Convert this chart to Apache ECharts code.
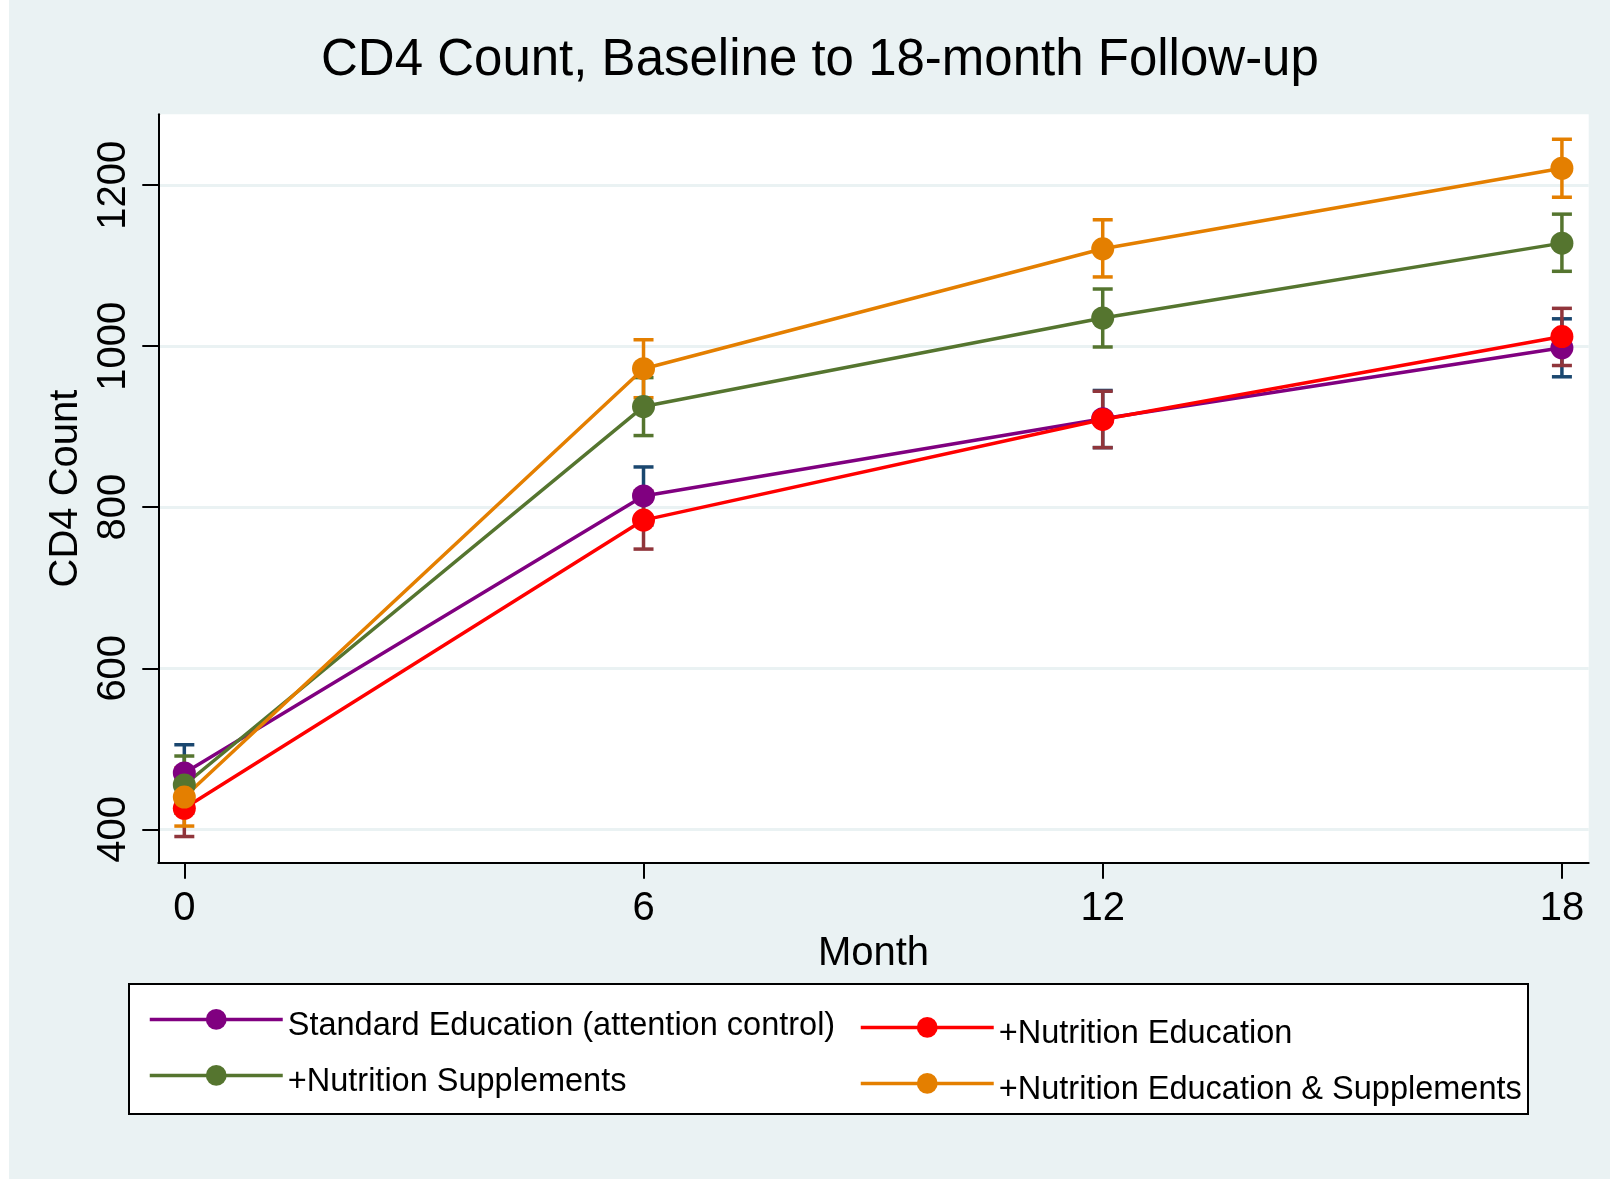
<!DOCTYPE html>
<html>
<head>
<meta charset="utf-8">
<script src="https://cdn.jsdelivr.net/npm/echarts@6/dist/echarts.min.js"></script>
<style>
  html, body { margin: 0; padding: 0; background: #fff; }
  #main { position: absolute; left: 9px; top: 0; width: 1601px; height: 1179px; }
</style>
</head>
<body>
<div id="main"></div>
<script>
// x positions (months) and axis ticks
const months = [0, 6, 12, 18];
const xTicks = [0, 6, 12, 18];
const yTicks = [400, 600, 800, 1000, 1200];

const seriesNames = [
  'Standard Education (attention control)',
  '+Nutrition Education',
  '+Nutrition Supplements',
  '+Nutrition Education & Supplements'
];

// mean CD4 count per group
const standardMean = [470, 814, 910, 998];
const nutEduMean = [426, 784, 909, 1012];
const suppMean = [455, 925, 1035, 1128];
const eduSuppMean = [440, 972, 1121, 1221];

// confidence interval ends
const standardLow = [435, 778, 874, 962];
const standardHigh = [505, 850, 945, 1034];
const nutEduLow = [391, 748, 874, 976];
const nutEduHigh = [461, 820, 944, 1047];
const suppLow = [420, 889, 999, 1093];
const suppHigh = [491, 961, 1071, 1164];
const eduSuppLow = [404, 936, 1086, 1185];
const eduSuppHigh = [476, 1008, 1157, 1257];

const lineColors = ['#800080', '#ff0000', '#55752f', '#e47f00'];
const barColors = ['#1a476f', '#90353b', '#55752f', '#e47f00'];

const means = [standardMean, nutEduMean, suppMean, eduSuppMean];
const lows = [standardLow, nutEduLow, suppLow, eduSuppLow];
const highs = [standardHigh, nutEduHigh, suppHigh, eduSuppHigh];

const font = '"Liberation Sans", Arial, Helvetica, sans-serif';

const chart = echarts.init(document.getElementById('main'));

function capRenderer(color) {
  return function (params, api) {
    const x = api.value(0);
    const lo = api.coord([x, api.value(1)]);
    const hi = api.coord([x, api.value(2)]);
    const w = 10;
    const style = { stroke: color, lineWidth: 3.5, fill: null };
    return {
      type: 'group',
      children: [
        { type: 'line', shape: { x1: lo[0], y1: lo[1], x2: hi[0], y2: hi[1] }, style: style },
        { type: 'line', shape: { x1: lo[0] - w, y1: lo[1], x2: lo[0] + w, y2: lo[1] }, style: style },
        { type: 'line', shape: { x1: hi[0] - w, y1: hi[1], x2: hi[0] + w, y2: hi[1] }, style: style }
      ]
    };
  };
}

const barSeries = seriesNames.map((n, k) => ({
  name: 'ci' + k,
  type: 'custom',
  renderItem: capRenderer(barColors[k]),
  data: months.map((m, i) => [m, lows[k][i], highs[k][i]]),
  z: 2,
  silent: true
}));

const lineSeries = seriesNames.map((n, k) => ({
  name: n,
  type: 'line',
  data: months.map((m, i) => [m, means[k][i]]),
  symbol: 'circle',
  symbolSize: 23,
  lineStyle: { color: lineColors[k], width: 3.5 },
  itemStyle: { color: lineColors[k] },
  z: 3
}));

// legend slots: [series index, left, top]
const legendSlots = [[0, 139, 1009], [2, 139, 1065], [1, 850, 1017], [3, 850, 1073]];

const option = {
  animation: false,
  backgroundColor: '#eaf2f3',
  title: {
    text: 'CD4 Count, Baseline to 18-month Follow-up',
    left: 312,
    top: 35,
    padding: 0,
    textStyle: { fontSize: 51, fontWeight: 'normal', color: '#000', fontFamily: font }
  },
  graphic: [{
    type: 'rect',
    left: 119,
    top: 983,
    shape: { width: 1399, height: 130 },
    style: { fill: '#fff', stroke: '#000', lineWidth: 2 },
    z: 0
  }],
  legend: legendSlots.map(s => ({
    data: [seriesNames[s[0]]],
    left: s[1],
    top: s[2],
    padding: 0,
    itemWidth: 133,
    itemHeight: 26,
    lineStyle: { width: 3.5 },
    formatter: '{t|{name}}',
    textStyle: {
      fontSize: 32.5, color: '#000', fontFamily: font,
      rich: { t: { fontSize: 32.5, color: '#000', fontFamily: font, padding: [14, 0, 0, 0] } }
    },
    selectedMode: false
  })),
  grid: {
    left: 149.3,
    top: 114.3,
    width: 1430.4,
    height: 748.4,
    show: true,
    backgroundColor: '#fff',
    borderWidth: 0
  },
  xAxis: {
    type: 'value',
    min: -0.34,
    max: 18.35,
    name: 'Month',
    nameLocation: 'middle',
    nameGap: 66,
    nameTextStyle: { fontSize: 40, color: '#000', fontFamily: font },
    axisLine: { show: true, onZero: false, lineStyle: { color: '#000', width: 2 } },
    axisTick: { show: true, length: 16, customValues: xTicks, lineStyle: { color: '#000', width: 2 } },
    axisLabel: { customValues: xTicks, fontSize: 40, color: '#000', margin: 26, fontFamily: font },
    splitLine: { show: false }
  },
  yAxis: {
    type: 'value',
    min: 358.5,
    max: 1288,
    name: 'CD4 Count',
    nameLocation: 'middle',
    nameRotate: 90,
    nameGap: 70,
    nameTextStyle: { fontSize: 40, color: '#000', fontFamily: font },
    axisLine: { show: true, onZero: false, lineStyle: { color: '#000', width: 2 } },
    axisTick: { show: true, length: 16, customValues: yTicks, lineStyle: { color: '#000', width: 2 } },
    axisLabel: {
      customValues: yTicks, rotate: 90, fontSize: 40, color: '#000', margin: 24, fontFamily: font,
      formatter: v => String(v)
    },
    splitLine: { show: true, lineStyle: { color: '#eaf2f3', width: 3 } }
  },
  series: barSeries.concat(lineSeries)
};

chart.setOption(option);
</script>
</body>
</html>
